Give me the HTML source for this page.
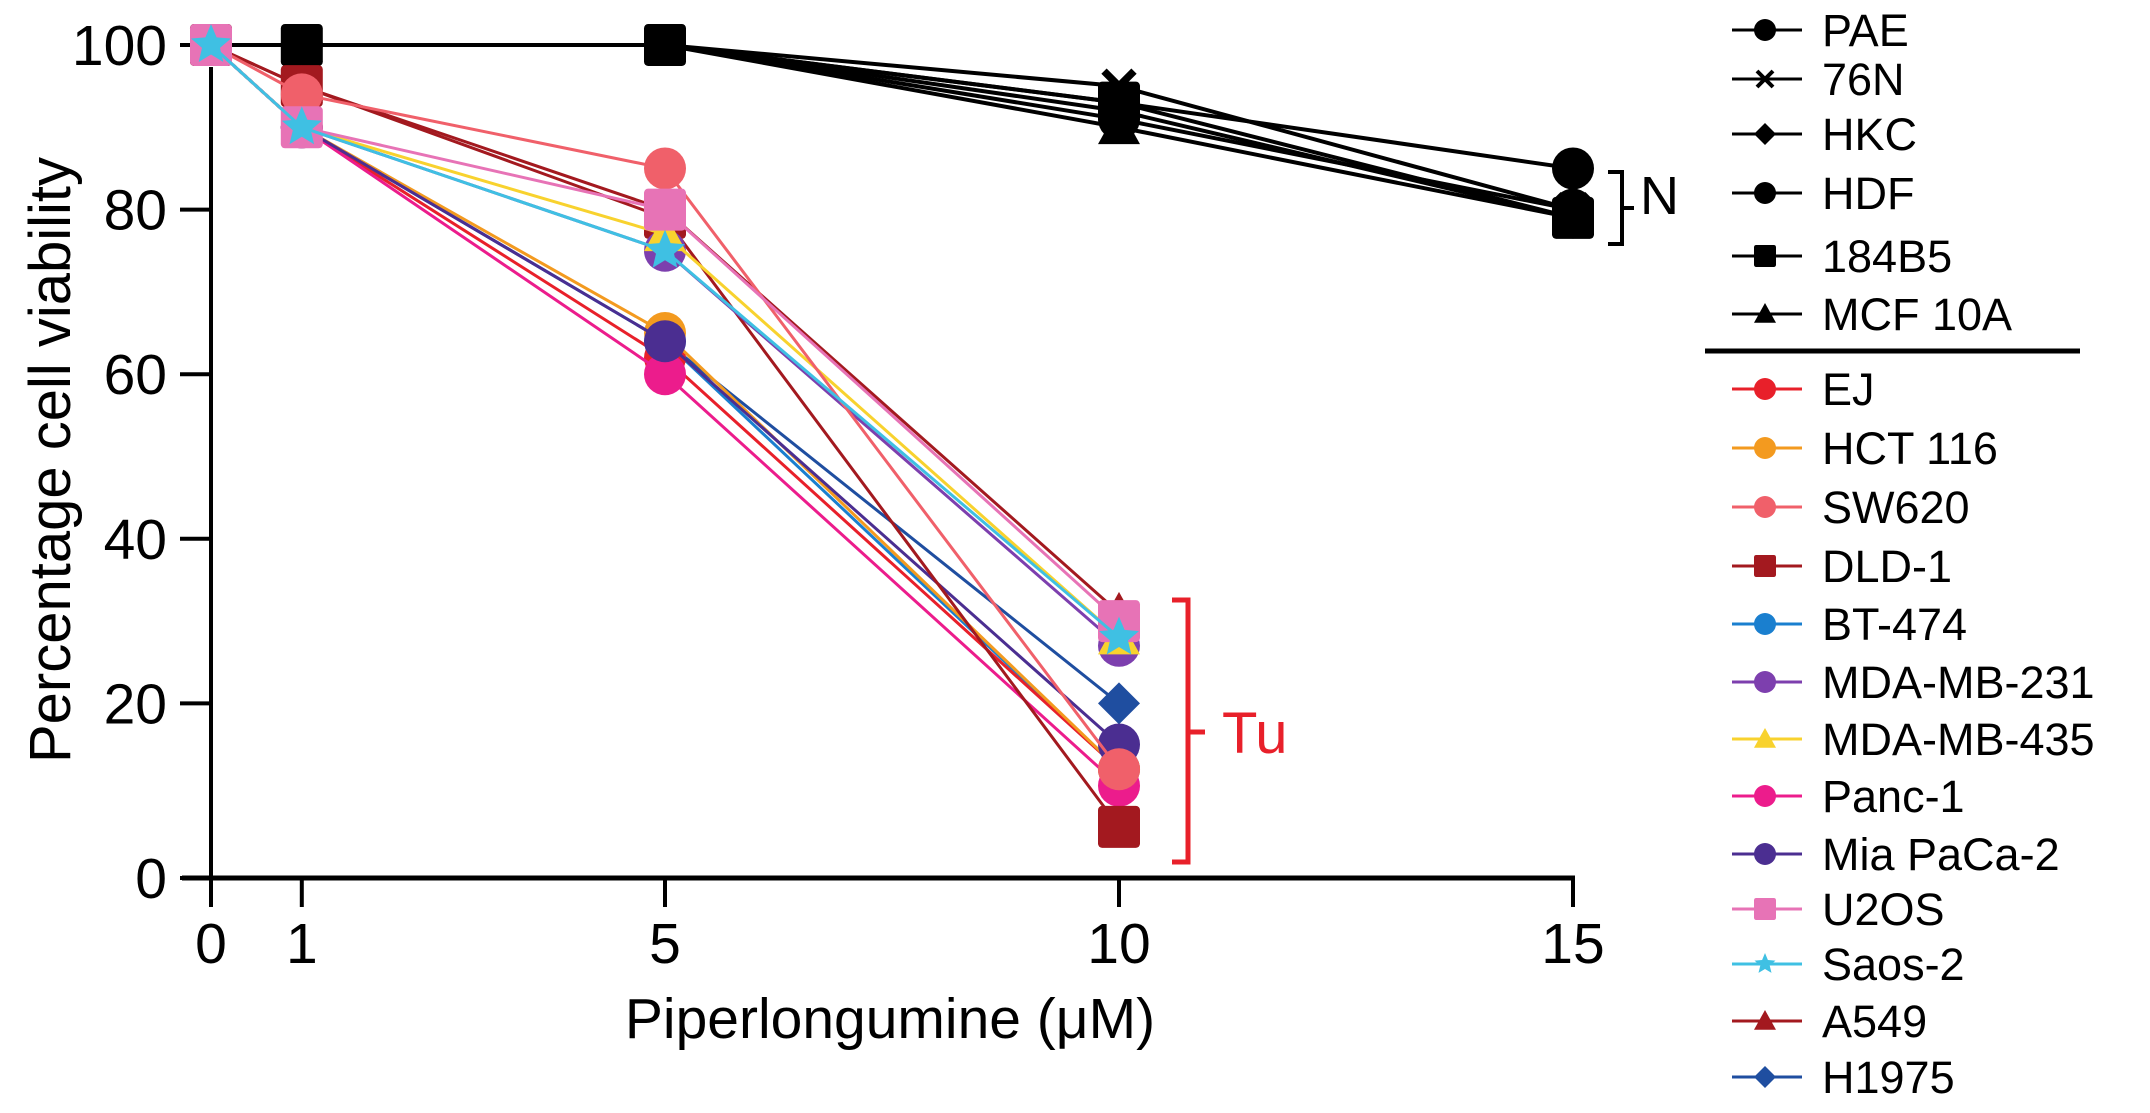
<!DOCTYPE html>
<html><head><meta charset="utf-8"><style>
html,body{margin:0;padding:0;background:#fff;}
svg{display:block;font-family:"Liberation Sans",Arial,sans-serif;}
</style></head><body>
<svg id="chart" width="2150" height="1113" viewBox="0 0 2150 1113" xmlns="http://www.w3.org/2000/svg">
<g id="axes"></g>
<g id="series"></g>
<g id="legend"></g>
<text x="0" y="0" transform="translate(70,460) rotate(-90)" font-size="58" text-anchor="middle">Percentage cell viability</text>
<text x="890" y="1038" font-size="57" text-anchor="middle">Piperlongumine (μM)</text>
<path d="M1608,172 H1622 V244 H1608 M1622,208 H1634" stroke="#000" stroke-width="4" fill="none"/>
<text x="1640" y="214" font-size="54">N</text>
<path d="M1172,600 H1188 V862 H1172 M1188,732 H1205" stroke="#e8202a" stroke-width="5" fill="none"/>
<text x="1222" y="753" font-size="58" fill="#e8202a">Tu</text>
</svg>
<script>
const xTicks = [0, 1, 5, 10, 15];
const yTicks = [0, 20, 40, 60, 80, 100];
const normalDoses = [0, 1, 5, 10, 15];
const tumorDoses = [0, 1, 5, 10];
const seriesNames = ["PAE","76N","HKC","HDF","184B5","MCF 10A","EJ","HCT 116","SW620","DLD-1","BT-474","MDA-MB-231","MDA-MB-435","Panc-1","Mia PaCa-2","U2OS","Saos-2","A549","H1975"];
const PAE = [100,100,100,93,85];
const N76 = [100,100,100,95,80];
const HKC = [100,100,100,92,79];
const HDF = [100,100,100,91,80];
const B184B5 = [100,100,100,93,79];
const MCF10A = [100,100,100,90,79];
const EJ = [100,90,62,12];
const HCT116 = [100,90,65,12];
const SW620 = [100,94,85,12];
const DLD1 = [100,95,79,5];
const BT474 = [100,90,64,12];
const MDA231 = [100,90,75,27];
const MDA435 = [100,90,77,28];
const PANC1 = [100,90,60,10];
const MIAPACA = [100,90,64,15];
const U2OS = [100,90,80,30];
const SAOS2 = [100,90,75,28];
const A549 = [100,95,80,31];
const H1975 = [100,90,64,20];

const NS='http://www.w3.org/2000/svg';
const X0=211, XU=90.8, Y0=868, YU=8.23;
const sx=v=>X0+v*XU, sy=v=>Y0-v*YU;
function mk(tag,attrs,parent){const e=document.createElementNS(NS,tag);for(const k in attrs)e.setAttribute(k,attrs[k]);parent.appendChild(e);return e;}
const axes=document.getElementById('axes');
let l=mk('line',{x1:sx(0),y1:sy(100)+22,x2:sx(0),y2:878,stroke:'#000','stroke-width':4},axes);


l=mk('line',{x1:182,y1:878,x2:sx(15)+2,y2:878,stroke:'#000','stroke-width':5},axes);


yTicks.forEach(t=>{
  const y=t===0?878:sy(t);
  const tk=mk('line',{x1:180,y1:y,x2:sx(0),y2:y,stroke:'#000','stroke-width':4},axes);
  
  
  const tx=mk('text',{x:167,y:y+20,'font-size':57,'text-anchor':'end'},axes);
  tx.textContent=t;
  
  
});
xTicks.forEach(t=>{
  const x=sx(t);
  const tk=mk('line',{x1:x,y1:878,x2:x,y2:907,stroke:'#000','stroke-width':4},axes);
  
  
  const tx=mk('text',{x:x,y:963,'font-size':57,'text-anchor':'middle'},axes);
  tx.textContent=t;
  
  
});

const defs=[
 {d:PAE,c:'#000',m:'circle',n:1},{d:N76,c:'#000',m:'x',n:1},{d:HKC,c:'#000',m:'diamond',n:1},
 {d:HDF,c:'#000',m:'circle',n:1},{d:B184B5,c:'#000',m:'square',n:1},{d:MCF10A,c:'#000',m:'tri',n:1},
 {d:EJ,c:'#e8202a',m:'circle'},{d:HCT116,c:'#f39a1f',m:'circle'},{d:SW620,c:'#f0606a',m:'circle'},
 {d:DLD1,c:'#a3191f',m:'square'},{d:BT474,c:'#1a7fcf',m:'circle'},{d:MDA231,c:'#7d3fae',m:'circle'},
 {d:MDA435,c:'#f8d22e',m:'tri'},{d:PANC1,c:'#ec1c8c',m:'circle'},{d:MIAPACA,c:'#4b2e91',m:'circle'},
 {d:U2OS,c:'#e773b6',m:'square'},{d:SAOS2,c:'#3fc0e3',m:'star'},{d:A549,c:'#a3191f',m:'tri'},
 {d:H1975,c:'#1f4ea0',m:'diamond'}
];
const drawOrder=[5,4,3,2,1,0,18,10,6,7,13,14,9,17,11,12,8,15,16];
function marker(type,x,y,r,c,parent){
  let e;
  if(type==='circle') e=mk('circle',{cx:x,cy:y,r:r,fill:c},parent);
  else if(type==='square') e=mk('rect',{x:x-r,y:y-r,width:2*r,height:2*r,rx:r*0.2,fill:c},parent);
  else if(type==='diamond') e=mk('path',{d:`M${x},${y-r} L${x+r},${y} L${x},${y+r} L${x-r},${y}Z`,fill:c},parent);
  else if(type==='tri') e=mk('path',{d:`M${x},${y-r} L${x+r},${y+r*0.8} L${x-r},${y+r*0.8}Z`,fill:c},parent);
  else if(type==='x') e=mk('path',{d:`M${x-r},${y-r} L${x+r},${y+r} M${x+r},${y-r} L${x-r},${y+r}`,stroke:c,'stroke-width':r*0.5},parent);
  else { let p='';for(let i=0;i<10;i++){const a=-Math.PI/2+i*Math.PI/5, rr=i%2?r*0.45:r; p+=(i?'L':'M')+(x+rr*Math.cos(a)).toFixed(1)+','+(y+rr*Math.sin(a)).toFixed(1);} e=mk('path',{d:p+'Z',fill:c},parent);}
  return e;
}
const sg=document.getElementById('series');
drawOrder.forEach(i=>{
  const s=defs[i];
  const doses=s.n?normalDoses:tumorDoses;
  const g=mk('g',{},sg);
  
  
  const pts=s.d.map((v,j)=>sx(doses[j])+','+sy(v)).join(' ');
  const pl=mk('polyline',{points:pts,fill:'none',stroke:s.c,'stroke-width':s.n?4:3},g);
  
  
  s.d.forEach((v,j)=>{
    const m=marker(s.m,sx(doses[j]),sy(v),s.m==='x'?15:21,s.c,g);
    
    
  });
});
const lg=document.getElementById('legend');
const rows=[30,79,134,193,256,314,389,448,507,566,624,682,739,796,854,909,964,1021,1077];
defs.forEach((s,i)=>{
  const y=rows[i];
  const g=mk('g',{},lg);
  
  
  mk('line',{x1:1732,y1:y,x2:1802,y2:y,stroke:s.c,'stroke-width':3},g);
  marker(s.m,1765,y,s.m==='x'?8:11,s.c,g);
  const t=mk('text',{x:1822,y:y+16,'font-size':45},g);
  t.textContent=seriesNames[i];
});
const sep=mk('line',{x1:1705,y1:351,x2:2080,y2:351,stroke:'#000','stroke-width':5},lg);


</script>
</body></html>
